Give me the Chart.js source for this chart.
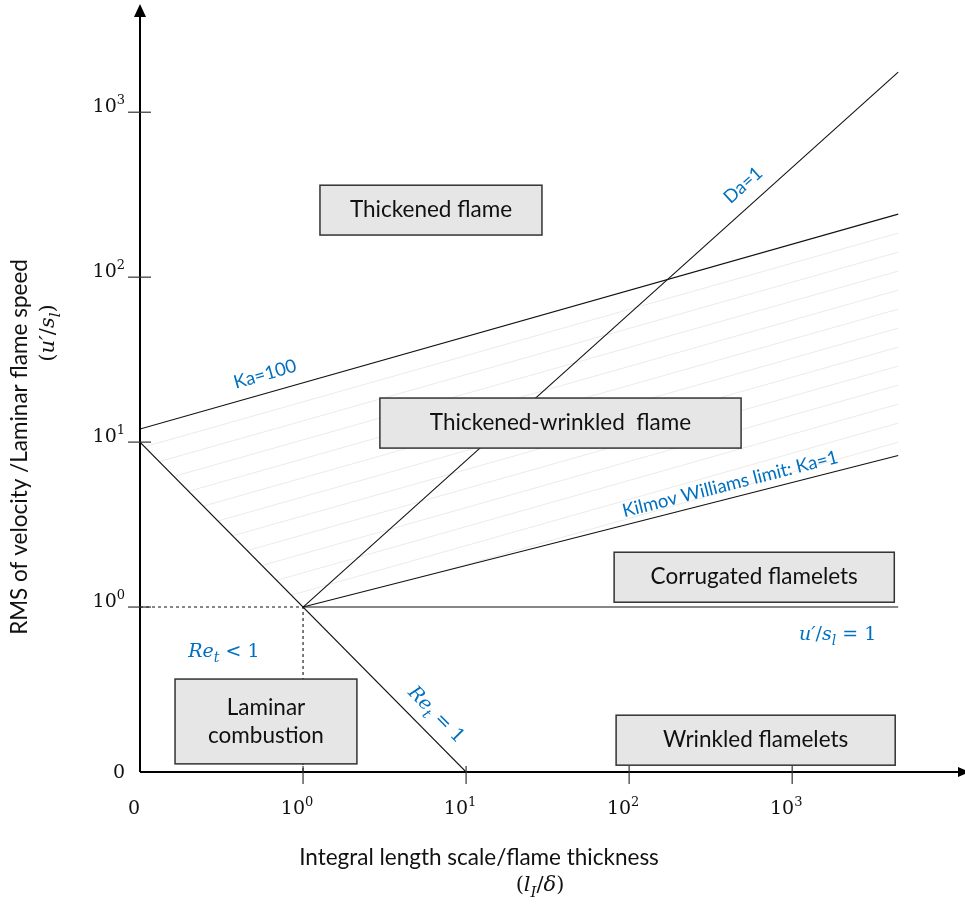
<!DOCTYPE html>
<html>
<head>
<meta charset="utf-8">
<script src="https://cdn.jsdelivr.net/npm/chart.js@4.4.0/dist/chart.umd.min.js"></script>
<style>
  html, body { margin: 0; padding: 0; background: #fff; }
  canvas { display: block; }
</style>
</head>
<body>
<canvas id="regime" width="965" height="907"></canvas>
<script>
// ---- data: l_I/delta (x) and u'/s_l (y) ---- //
const xTicks = [0.1, 1, 10, 100, 1000];
const yTicks = [0.1, 1, 10, 100, 1000];
const tickBase = ["0", "10", "10", "10", "10"];
const tickExp = ["", "0", "1", "2", "3"];

const ka100X = [0.1, 4470];
const ka100Y = [12.0, 241];
const da1X = [1, 4470];
const da1Y = [1, 1750];
const ka1X = [1, 4470];
const ka1Y = [1, 8.3];
const re1X = [0.1, 10];
const re1Y = [10, 0.1];
const unityX = [1, 4470];
const unityY = [1, 1];
const dashX = [0.1, 1, 1];
const dashY = [1, 1, 0.1];

// regime boxes (corners in data units)
const regionText = [["Thickened flame"], ["Thickened-wrinkled  flame"], ["Corrugated flamelets"],
                    ["Laminar", "combustion"], ["Wrinkled flamelets"]];
const regionX = [[1.27, 29.2], [2.96, 486], [80.9, 4230], [0.164, 2.14], [83.2, 4285]];
const regionY = [[180, 361], [9.2, 18.5], [1.07, 2.15], [0.112, 0.366], [0.110, 0.221]];

const BLUE = "#0070C0";

function pts(xs, ys) {
    return xs.map((x, i) => ({ x: x, y: ys[i] }));
}

function lineSet(xs, ys, dash) {
    return {
        data: pts(xs, ys),
        showLine: true,
        borderColor: "#111",
        borderWidth: 1.1,
        borderDash: dash || [],
        pointRadius: 0,
        fill: false,
        tension: 0
    };
}

// italic serif "math" text with subscripts
function drawMath(ctx, parts, cx, cy, size) {
    const fam = '"DejaVu Serif", serif';
    const fonts = parts.map(p => (p[1] ? "italic " : "") + (p[1] === "s" ? Math.round(size * 0.72) : size) + "px " + fam);
    let w = 0;
    const ws = parts.map((p, i) => {
        ctx.font = fonts[i];
        const m = ctx.measureText(p[0]).width;
        w += m;
        return m;
    });
    let x = cx - w / 2;
    ctx.textAlign = "left";
    ctx.textBaseline = "alphabetic";
    parts.forEach((p, i) => {
        ctx.font = fonts[i];
        ctx.fillText(p[0], x, cy + size * 0.35 + (p[1] === "s" ? size * 0.28 : 0));
        x += ws[i];
    });
}

function angleOf(xs, ys, sx, sy) {
    const dx = sx.getPixelForValue(xs[1]) - sx.getPixelForValue(xs[0]);
    const dy = sy.getPixelForValue(ys[1]) - sy.getPixelForValue(ys[0]);
    return Math.atan2(dy, dx);
}

const regimePlugin = {
    id: "regime",
    beforeDatasetsDraw(chart) {
        const ctx = chart.ctx, sx = chart.scales.x, sy = chart.scales.y;
        const P = (x, y) => [sx.getPixelForValue(x), sy.getPixelForValue(y)];
        // light hatching between Ka=100 and Ka=1
        const a = P(ka100X[0], ka100Y[0]), b = P(ka100X[1], ka100Y[1]);
        const c = P(ka1X[1], ka1Y[1]), d = P(ka1X[0], ka1Y[0]), e = P(re1X[0], re1Y[0]);
        ctx.save();
        ctx.beginPath();
        ctx.moveTo(a[0], a[1]); ctx.lineTo(b[0], b[1]); ctx.lineTo(c[0], c[1]);
        ctx.lineTo(d[0], d[1]); ctx.lineTo(e[0], e[1]); ctx.closePath();
        ctx.clip();
        ctx.strokeStyle = "#ebebeb";
        ctx.lineWidth = 1;
        for (let k = 1; k < 20; k++) {
            ctx.beginPath();
            ctx.moveTo(a[0], a[1] + k * 19);
            ctx.lineTo(b[0], b[1] + k * 19);
            ctx.stroke();
        }
        ctx.restore();
    },
    afterDatasetsDraw(chart) {
        const ctx = chart.ctx, sx = chart.scales.x, sy = chart.scales.y;
        const area = chart.chartArea;
        const ox = sx.getPixelForValue(xTicks[0]), oy = sy.getPixelForValue(yTicks[0]);
        ctx.save();

        // axes with arrows
        ctx.strokeStyle = "#000";
        ctx.fillStyle = "#000";
        ctx.lineWidth = 2;
        ctx.beginPath();
        ctx.moveTo(ox, oy); ctx.lineTo(ox, area.top + 10);
        ctx.moveTo(ox, oy); ctx.lineTo(area.right, oy);
        ctx.stroke();
        ctx.beginPath();
        ctx.moveTo(ox, area.top - 1); ctx.lineTo(ox - 6, area.top + 12); ctx.lineTo(ox + 6, area.top + 12);
        ctx.closePath(); ctx.fill();
        ctx.beginPath();
        ctx.moveTo(area.right + 5, oy); ctx.lineTo(area.right - 7, oy - 5); ctx.lineTo(area.right - 7, oy + 5);
        ctx.closePath(); ctx.fill();

        // tick marks crossing the axes
        ctx.strokeStyle = "#333";
        ctx.lineWidth = 1.2;
        for (let i = 1; i < xTicks.length; i++) {
            const px = sx.getPixelForValue(xTicks[i]);
            ctx.beginPath(); ctx.moveTo(px, oy - 6); ctx.lineTo(px, oy + 12); ctx.stroke();
        }
        for (let i = 1; i < yTicks.length; i++) {
            const py = sy.getPixelForValue(yTicks[i]);
            ctx.beginPath(); ctx.moveTo(ox - 12, py); ctx.lineTo(ox + 11, py); ctx.stroke();
        }

        // tick labels
        ctx.fillStyle = "#111";
        ctx.textBaseline = "alphabetic";
        const tickFont = '19px "DejaVu Serif", serif', expFont = '13px "DejaVu Serif", serif';
        function tickLabel(i, x, y, align) {
            ctx.font = tickFont;
            const wb = ctx.measureText(tickBase[i]).width;
            ctx.font = expFont;
            const we = ctx.measureText(tickExp[i]).width;
            let left = align === "right" ? x - wb - we : x - (wb + we) / 2;
            ctx.textAlign = "left";
            ctx.font = tickFont;
            ctx.fillText(tickBase[i], left, y);
            ctx.font = expFont;
            ctx.fillText(tickExp[i], left + wb, y - 8);
        }
        for (let i = 0; i < xTicks.length; i++) {
            tickLabel(i, sx.getPixelForValue(xTicks[i]) - 6, oy + 42, "center");
        }
        for (let i = 0; i < yTicks.length; i++) {
            const py = sy.getPixelForValue(yTicks[i]);
            tickLabel(i, ox - 15, py + (i === 0 ? 6 : 0), "right");
        }

        // regime boxes
        regionText.forEach((lines, i) => {
            const x1 = sx.getPixelForValue(regionX[i][0]), x2 = sx.getPixelForValue(regionX[i][1]);
            const y1 = sy.getPixelForValue(regionY[i][1]), y2 = sy.getPixelForValue(regionY[i][0]);
            ctx.fillStyle = "#e6e6e6";
            ctx.fillRect(x1, y1, x2 - x1, y2 - y1);
            ctx.strokeStyle = "#333";
            ctx.lineWidth = 1.5;
            ctx.strokeRect(x1, y1, x2 - x1, y2 - y1);
            ctx.fillStyle = "#111";
            ctx.font = '22.5px Lato, sans-serif';
            ctx.textAlign = "center";
            ctx.textBaseline = "middle";
            const cy = (y1 + y2) / 2, lh = 28;
            lines.forEach((t, j) => {
                ctx.fillText(t, (x1 + x2) / 2, cy + (j - (lines.length - 1) / 2) * lh);
            });
        });

        // blue line labels
        ctx.fillStyle = BLUE;
        ctx.font = '18.5px Lato, sans-serif';
        ctx.textAlign = "center";
        ctx.textBaseline = "middle";
        function rotated(text, x, y, ang) {
            ctx.save();
            ctx.translate(sx.getPixelForValue(x), sy.getPixelForValue(y));
            ctx.rotate(ang);
            ctx.fillText(text, 0, 0);
            ctx.restore();
        }
        rotated("Ka=100", 0.585, 25.8, angleOf(ka100X, ka100Y, sx, sy));
        rotated("Da=1", 500, 361, angleOf(da1X, da1Y, sx, sy));
        rotated("Kilmov Williams limit: Ka=1", 417, 5.56, angleOf(ka1X, ka1Y, sx, sy));

        drawMath(ctx, [["u′", "i"], ["/", ""], ["s", "i"], ["l", "s"], [" = 1", ""]],
            sx.getPixelForValue(1900), sy.getPixelForValue(0.695), 19);
        drawMath(ctx, [["Re", "i"], ["t", "s"], [" < 1", ""]],
            sx.getPixelForValue(0.327), sy.getPixelForValue(0.548), 19);
        ctx.save();
        ctx.translate(sx.getPixelForValue(6.64), sy.getPixelForValue(0.225));
        ctx.rotate(angleOf(re1X, re1Y, sx, sy));
        drawMath(ctx, [["Re", "i"], ["t", "s"], [" = 1", ""]], 0, 0, 19);
        ctx.restore();

        // axis titles
        ctx.fillStyle = "#111";
        ctx.font = '22.5px Lato, sans-serif';
        ctx.textAlign = "center";
        ctx.textBaseline = "middle";
        ctx.fillText("Integral length scale/flame thickness", 479, 858);
        drawMath(ctx, [["(", ""], ["l", "i"], ["I", "s"], ["/", ""], ["δ", "i"], [")", ""]], 540, 884, 21);
        ctx.save();
        ctx.translate(20, 447);
        ctx.rotate(-Math.PI / 2);
        ctx.font = '22.5px Lato, sans-serif';
        ctx.textAlign = "center";
        ctx.textBaseline = "middle";
        ctx.fillText("RMS of velocity /Laminar flame speed", 0, 0);
        ctx.restore();
        ctx.save();
        ctx.translate(47, 333);
        ctx.rotate(-Math.PI / 2);
        drawMath(ctx, [["(", ""], ["u′", "i"], ["/", ""], ["s", "i"], ["l", "s"], [")", ""]], 0, 0, 21);
        ctx.restore();

        ctx.restore();
    }
};

const ctx = document.getElementById("regime");
new Chart(ctx, {
    type: "scatter",
    data: {
        datasets: [
            lineSet(ka100X, ka100Y),
            lineSet(da1X, da1Y),
            lineSet(ka1X, ka1Y),
            lineSet(re1X, re1Y),
            lineSet(unityX, unityY),
            lineSet(dashX, dashY, [3, 3])
        ]
    },
    options: {
        responsive: false,
        animation: false,
        layout: { padding: { left: 140, right: 0, top: 5, bottom: 135 } },
        plugins: { legend: { display: false }, tooltip: { enabled: false } },
        scales: {
            x: { type: "logarithmic", display: false, min: 0.1, max: Math.pow(10, 4.06) },
            y: { type: "logarithmic", display: false, min: 0.1, max: Math.pow(10, 3.65) }
        }
    },
    plugins: [regimePlugin]
});
</script>
</body>
</html>
